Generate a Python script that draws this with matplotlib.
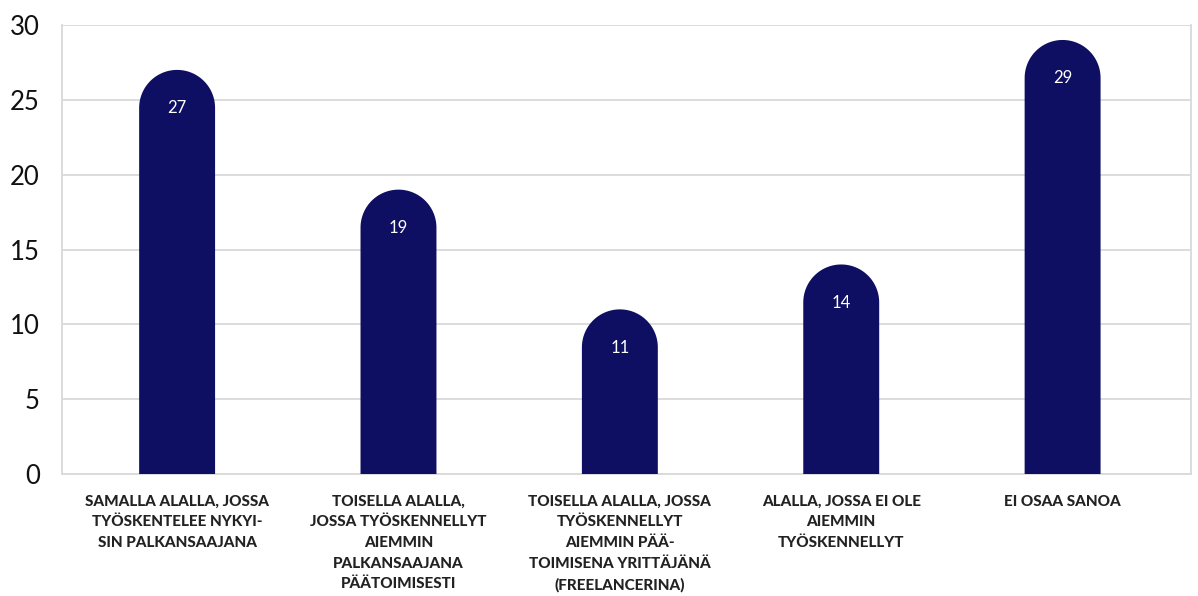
import numpy as np
import matplotlib.pyplot as plt
from matplotlib.patches import Polygon

categories = [
    'SAMALLA ALALLA, JOSSA\nTYÖSKENTELEE NYKYI-\nSIN PALKANSAAJANA',
    'TOISELLA ALALLA,\nJOSSA TYÖSKENNELLYT\nAIEMMIN\nPALKANSAAJANA\nPÄÄTOIMISESTI',
    'TOISELLA ALALLA, JOSSA\nTYÖSKENNELLYT\nAIEMMIN PÄÄ-\nTOIMISENA YRITTÄJÄNÄ\n(FREELANCERINA)',
    'ALALLA, JOSSA EI OLE\nAIEMMIN\nTYÖSKENNELLYT',
    'EI OSAA SANOA',
]
values = [27, 19, 11, 14, 29]
yticks = [0, 5, 10, 15, 20, 25, 30]

bar_color = '#0e0e62'
grid_color = '#d9d9d9'

fig = plt.figure(figsize=(11.98, 5.96), dpi=100)
ax = fig.add_axes([62 / 1198, 1 - 474 / 596, (1191 - 62) / 1198, (474 - 25) / 596])

ax.set_xlim(-0.52, 4.58)
ax.set_ylim(0, 30)

width = 0.343
# radius of rounded cap in data units (circle in pixels)
px_per_x = (1191 - 62) / 5.10
px_per_y = (474 - 25) / 30
r_px = width * px_per_x / 2
r_y = r_px / px_per_y
theta = np.linspace(0, np.pi, 60)

for i, v in enumerate(values):
    cy = v - r_y
    xs = np.concatenate([[i + width / 2], i + width / 2 * np.cos(theta), [i - width / 2]])
    ys = np.concatenate([[0], cy + r_y * np.sin(theta), [0]])
    ax.add_patch(Polygon(np.column_stack([xs, ys]), closed=True, color=bar_color, lw=0, zorder=3))
    ax.text(i, v - 2.55, str(v), color='white', ha='center', va='center',
            fontsize=12, family='Lato', zorder=4)

ax.set_yticks(yticks)
ax.set_yticklabels([str(t) for t in yticks], fontsize=18.5, family='Lato', color='#111111')
ax.yaxis.grid(True, color=grid_color, lw=1.3, zorder=0)
ax.set_axisbelow(True)
ax.tick_params(axis='y', length=0, pad=16)
ax.tick_params(axis='x', length=0, pad=15)
ax.set_xticks(range(len(categories)))
ax.set_xticklabels(categories, fontsize=11, family='Lato', fontweight='black',
                   color='#222222', linespacing=1.6, va='top')

for s in ['left', 'right', 'bottom']:
    ax.spines[s].set_color(grid_color)
    ax.spines[s].set_linewidth(1.3)
ax.spines['top'].set_visible(False)

plt.savefig('out.png', dpi=100)
